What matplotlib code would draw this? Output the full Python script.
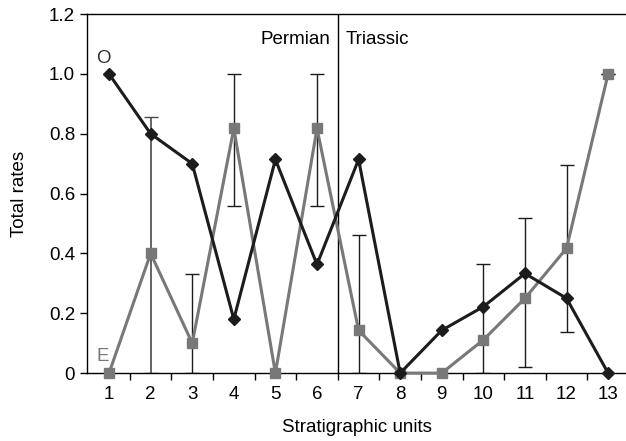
import matplotlib

matplotlib.use("Agg")
import matplotlib.pyplot as plt
import numpy as np

plt.rcParams["font.family"] = ["Liberation Sans", "DejaVu Sans"]

# Dados
units = list(range(1, 14))
rate_o = [1.0, 0.8, 0.7, 0.18, 0.714, 0.363, 0.714, 0.0, 0.143, 0.222, 0.333, 0.25, 0.0]
rate_e = [0.0, 0.4, 0.1, 0.818, 0.0, 0.818, 0.143, 0.0, 0.0, 0.111, 0.25, 0.417, 1.0]

# barras de erro (limite inferior / superior)
err_units = [2, 3, 4, 6, 7, 10, 11, 12, 13]
err_low = [0.0, 0.0, 0.557, 0.557, 0.0, 0.0, 0.02, 0.137, 1.0]
err_high = [0.857, 0.33, 1.0, 1.0, 0.46, 0.363, 0.52, 0.695, 1.0]

y_ticks = [0, 0.2, 0.4, 0.6, 0.8, 1.0, 1.2]
y_tick_labels = ["0", "0.2", "0.4", "0.6", "0.8", "1.0", "1.2"]

BLACK = "#1c1c1c"
GREY = "#787878"
FS = 13.5

fig = plt.figure(figsize=(6.26, 4.41), dpi=100)
ax = fig.add_axes([0.139, 0.154, 0.861, 0.814])

lo = np.array(err_low)
hi = np.array(err_high)
# a primeira barra (unidade 2) aparece em cinza escuro no original
ax.errorbar(err_units[:1], (lo[:1] + hi[:1]) / 2, yerr=(hi[:1] - lo[:1]) / 2,
            fmt="none", ecolor="#4a4a4a", elinewidth=1.2, capsize=5,
            capthick=1.0, zorder=2)
ax.errorbar(err_units[1:], (lo[1:] + hi[1:]) / 2, yerr=(hi[1:] - lo[1:]) / 2,
            fmt="none", ecolor=BLACK, elinewidth=1.0, capsize=5,
            capthick=1.0, zorder=2)

ax.plot(units, rate_e, color=GREY, linewidth=2.2, marker="s", markersize=7,
        markerfacecolor=GREY, markeredgecolor=GREY, zorder=3, clip_on=False)
ax.plot(units, rate_o, color=BLACK, linewidth=2.2, marker="D", markersize=6.5,
        markerfacecolor=BLACK, markeredgecolor=BLACK, zorder=4, clip_on=False)

# limite Permiano / Triássico
ax.axvline(6.5, color="black", linewidth=1.0, zorder=1)
ax.text(6.32, 1.115, "Permian", ha="right", va="center", fontsize=FS)
ax.text(6.68, 1.115, "Triassic", ha="left", va="center", fontsize=FS)

ax.text(0.86, 1.05, "O", color="#333333", fontsize=FS, ha="center", va="center")
ax.text(0.86, 0.055, "E", color=GREY, fontsize=FS, ha="center", va="center")

ax.set_xlim(0.47, 13.43)
ax.set_ylim(0, 1.2)
ax.set_xticks(units)
ax.set_xticklabels([str(u) for u in units])
ax.set_xticks(np.arange(1.5, 13.0, 1.0), minor=True)
ax.tick_params(axis="x", which="major", length=0, pad=9, labelsize=FS)
ax.tick_params(axis="x", which="minor", length=5, width=1.0, direction="out")
ax.set_yticks(y_ticks)
ax.set_yticklabels(y_tick_labels)
ax.tick_params(axis="y", length=5, width=1.0, direction="out", labelsize=FS)

ax.spines["right"].set_visible(False)
for s in ["left", "top", "bottom"]:
    ax.spines[s].set_linewidth(1.0)

ax.set_xlabel("Stratigraphic units", fontsize=FS, labelpad=12)
ax.set_ylabel("Total rates", fontsize=FS, labelpad=15)

plt.savefig("out.png", dpi=100, facecolor="white")
plt.close(fig)
